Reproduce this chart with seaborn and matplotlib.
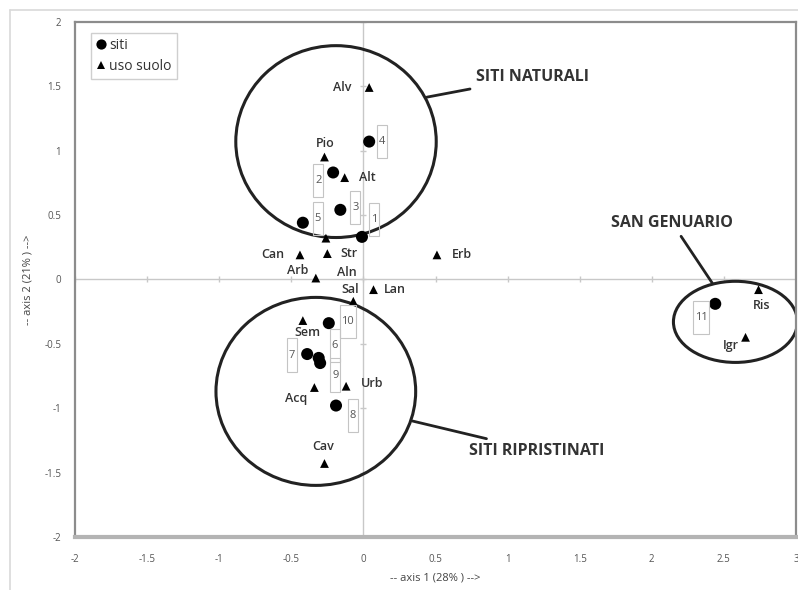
import numpy as np
import pandas as pd
import matplotlib
matplotlib.use("Agg")
import matplotlib.pyplot as plt
from matplotlib.patches import Ellipse
from matplotlib.lines import Line2D
import seaborn as sns

sns.set_theme(style="white")
plt.rcParams["font.family"] = ["Open Sans", "DejaVu Sans"]

# siti (circles)
siti_lab = ["1", "2", "3", "4", "5", "6", "7", "8", "9", "10", "11"]
siti_x = [-0.01, -0.21, -0.16, 0.04, -0.42, -0.31, -0.39, -0.19, -0.30, -0.24, 2.44]
siti_y = [0.33, 0.83, 0.54, 1.07, 0.44, -0.61, -0.58, -0.98, -0.65, -0.34, -0.19]

# uso suolo (triangles)
uso_lab = ["Alv", "Pio", "Alt", "Str", "Aln", "Can", "Arb", "Erb", "Sal", "Lan",
           "Sem", "Acq", "Urb", "Cav", "Ris", "Igr"]
uso_x = [0.04, -0.27, -0.13, -0.26, -0.25, -0.44, -0.33, 0.51, -0.07, 0.07,
         -0.42, -0.34, -0.12, -0.27, 2.74, 2.65]
uso_y = [1.49, 0.95, 0.79, 0.32, 0.20, 0.19, 0.01, 0.19, -0.17, -0.08,
         -0.32, -0.84, -0.83, -1.43, -0.08, -0.45]

# label offsets in pixels
siti_off = {"1": (12, 17), "2": (-15, -8), "3": (15, 2), "4": (13, 0), "5": (15, 4),
            "6": (16, 12), "7": (-15, -1), "8": (17, -10), "9": (15, -12),
            "10": (19, 2), "11": (-14, -14)}
uso_off = {"Alv": (-27, 0), "Pio": (1, 14), "Alt": (23, 0), "Str": (23, -15),
           "Aln": (20, -19), "Can": (-27, 0), "Arb": (-18, 8), "Erb": (25, 0),
           "Sal": (-3, 12), "Lan": (21, 0), "Sem": (5, -12), "Acq": (-18, -11),
           "Urb": (26, 3), "Cav": (-1, 17), "Ris": (3, -16), "Igr": (-15, -8)}

df = pd.DataFrame({
    "x": siti_x + uso_x,
    "y": siti_y + uso_y,
    "tipo": ["siti"] * len(siti_x) + ["uso suolo"] * len(uso_x),
})

fig = plt.figure(figsize=(7.98, 5.90), dpi=100)
ax = fig.add_axes([0.094, 0.090, 0.9035, 0.873])

# outer chart border
fig.add_artist(Line2D([10 / 798, 10 / 798], [0, 1 - 10 / 590], transform=fig.transFigure,
                      color="#d9d9d9", lw=1.2))
fig.add_artist(Line2D([10 / 798, 1], [1 - 10 / 590, 1 - 10 / 590], transform=fig.transFigure,
                      color="#d9d9d9", lw=1.2))

ax.set_xlim(-2, 3)
ax.set_ylim(-2, 2)

# axes through zero
ticks_x = np.arange(-2, 3.01, 0.5)
ticks_y = np.arange(-2, 2.01, 0.5)
ax.axhline(0, color="#c8c8c8", lw=1, zorder=1)
ax.axvline(0, color="#c8c8c8", lw=1, zorder=1)
ax.plot(ticks_x, np.zeros_like(ticks_x), ls="none", marker="|", ms=5, color="#c8c8c8", zorder=1)
ax.plot(np.zeros_like(ticks_y), ticks_y, ls="none", marker="_", ms=5, color="#c8c8c8", zorder=1)

sns.scatterplot(data=df, x="x", y="y", style="tipo", size="tipo",
                markers={"siti": "o", "uso suolo": "^"},
                sizes={"siti": 75, "uso suolo": 40},
                color="black", edgecolor="black", linewidth=0, ax=ax, zorder=3)

# site numbers in boxes
for lab, x, y in zip(siti_lab, siti_x, siti_y):
    ax.annotate("\n" + lab + "\n", (x, y), xytext=siti_off[lab], textcoords="offset pixels",
                ha="center", va="center", fontsize=8, color="#555555", linespacing=0.8,
                bbox=dict(boxstyle="square,pad=0.15", fc="none", ec="#c4c4c4", lw=0.8),
                zorder=4)

# land use names
for lab, x, y in zip(uso_lab, uso_x, uso_y):
    ax.annotate(lab, (x, y), xytext=uso_off[lab], textcoords="offset pixels",
                ha="center", va="center", fontsize=9, color="#333333",
                fontweight="semibold", zorder=4)

# group circles
ax.add_patch(Ellipse((-0.19, 1.07), 1.39, 1.49, fill=False, ec="#222222", lw=2.2, zorder=2))
ax.add_patch(Ellipse((-0.33, -0.87), 1.385, 1.46, fill=False, ec="#222222", lw=2.2, zorder=2))
ax.add_patch(Ellipse((2.58, -0.33), 0.86, 0.63, fill=False, ec="#222222", lw=2.2, zorder=2))

note_kw = dict(fontsize=11.5, fontweight="bold", color="#333333",
               arrowprops=dict(arrowstyle="-", color="#222222", lw=2, shrinkA=2, shrinkB=0))
ax.annotate("SITI NATURALI", xy=(0.44, 1.415), xytext=(0.78, 1.57), ha="left", va="center", **note_kw)
ax.annotate("SITI RIPRISTINATI", xy=(0.34, -1.10), xytext=(0.73, -1.33), ha="left", va="center", **note_kw)
ax.annotate("SAN GENUARIO", xy=(2.42, -0.03), xytext=(2.14, 0.44), ha="center", va="center", **note_kw)

# ticks and labels
ax.set_xticks(ticks_x)
ax.set_yticks(ticks_y)
ax.set_xticklabels([f"{t:g}" for t in ticks_x])
ax.set_yticklabels([f"{t:g}" for t in ticks_y])
ax.tick_params(axis="both", length=0, labelsize=7, labelcolor="#555555")
ax.tick_params(axis="x", pad=12)
ax.tick_params(axis="y", pad=10)
ax.set_xlabel("-- axis 1 (28% ) -->", fontsize=8, color="#444444", labelpad=6)
ax.set_ylabel("-- axis 2 (21% ) -->", fontsize=8, color="#444444", labelpad=8)

for side in ["left", "right", "top"]:
    ax.spines[side].set_color("#8c8c8c")
    ax.spines[side].set_linewidth(1.6)
ax.spines["bottom"].set_color("#b4b4b4")
ax.spines["bottom"].set_linewidth(3)

handles, labels = ax.get_legend_handles_labels()
leg = ax.legend(handles, labels, loc="upper left", bbox_to_anchor=(0.012, 0.992),
                fontsize=10, frameon=True, fancybox=False, handletextpad=0.2,
                handlelength=0.8, borderpad=0.35, labelspacing=0.45, markerscale=0.85)
leg.get_frame().set_edgecolor("#c4c4c4")
leg.get_frame().set_linewidth(1)
for t in leg.get_texts():
    t.set_color("#333333")

plt.savefig("out.png", dpi=100)
